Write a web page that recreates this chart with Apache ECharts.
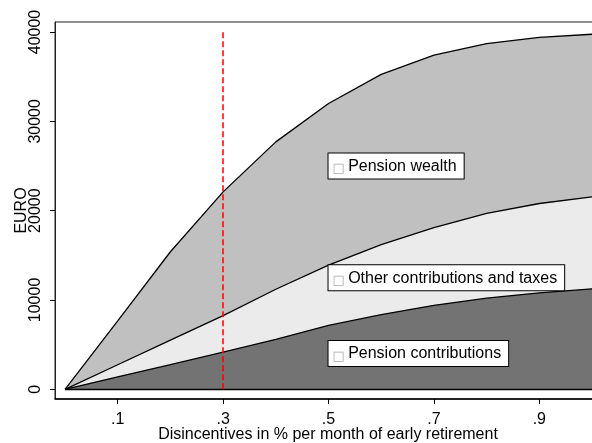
<!DOCTYPE html>
<html>
<head>
<meta charset="utf-8">
<script src="https://cdn.jsdelivr.net/npm/echarts@6/dist/echarts.min.js"></script>
<style>
  html, body { margin: 0; padding: 0; background: #fff; }
  #chart { width: 592px; height: 443px; }
</style>
</head>
<body>
<div id="chart"></div>
<script>
// x: disincentive in % per month of early retirement
const X_VALUES = [0, 0.1, 0.2, 0.3, 0.4, 0.5, 0.6, 0.7, 0.8, 0.9, 1.0]
// cumulative curves (EURO)
const PENSION_WEALTH = [0, 7650, 15400, 22100, 27700, 32000, 35250, 37400, 38700, 39400, 39750]
const OTHER_CONTRIB = [0, 2750, 5500, 8250, 11200, 13900, 16200, 18100, 19700, 20800, 21550]
const PENSION_CONTRIB = [0, 1400, 2750, 4150, 5600, 7150, 8350, 9400, 10200, 10800, 11250]

const X_TICKS = [0.1, 0.3, 0.5, 0.7, 0.9]
const Y_TICKS = [0, 10000, 20000, 30000, 40000]

const CUTOFF = 0.3
const CUTOFF_TOP = 40000

const LABELS = [
  { name: 'Pension wealth', x: 0.5, y: 25000 },
  { name: 'Other contributions and taxes', x: 0.5, y: 12500 },
  { name: 'Pension contributions', x: 0.5, y: 4000 },
]

const FONT = '"Liberation Sans", Arial, Helvetica, sans-serif'

const toPairs = (ys) => X_VALUES.map((x, i) => [x, ys[i]])

const areaSeries = (name, ys, fill) => ({
  name,
  type: 'line',
  data: toPairs(ys),
  symbol: 'none',
  lineStyle: { color: '#000', width: 1.3 },
  areaStyle: { color: fill, opacity: 1, origin: 0 },
  z: 2,
})

const chart = echarts.init(document.getElementById('chart'), null, { renderer: 'canvas' })

chart.setOption({
  animation: false,
  textStyle: { fontFamily: FONT },
  grid: {
    left: 55,
    top: 22,
    width: 546,
    bottom: 44,
    outerBoundsMode: 'none',
    containLabel: false,
    show: true,
    borderColor: '#222',
    borderWidth: 1,
    backgroundColor: '#fff',
  },
  xAxis: {
    type: 'value',
    min: -0.019,
    max: 1.017,
    name: 'Disincentives in % per month of early retirement',
    nameLocation: 'middle',
    nameGap: 28,
    nameMoveOverlap: false,
    nameTextStyle: { color: '#000', fontSize: 16, fontFamily: FONT },
    axisLine: { show: true, onZero: false, lineStyle: { color: '#000', width: 1.5 } },
    axisTick: { show: true, length: 5, customValues: X_TICKS, lineStyle: { color: '#000' } },
    axisLabel: {
      customValues: X_TICKS,
      margin: 13,
      color: '#000',
      fontSize: 16,
      fontFamily: FONT,
      formatter: (v) => String(v).replace(/^0/, ''),
    },
    splitLine: { show: false },
  },
  yAxis: {
    type: 'value',
    min: -1087,
    max: 41120,
    name: 'EURO',
    nameLocation: 'middle',
    nameGap: 25,
    nameMoveOverlap: false,
    nameTextStyle: { color: '#000', fontSize: 16, fontFamily: FONT },
    axisLine: { show: true, onZero: false, lineStyle: { color: '#222', width: 1 } },
    axisTick: { show: true, length: 5, customValues: Y_TICKS, lineStyle: { color: '#000' } },
    axisLabel: {
      customValues: Y_TICKS,
      rotate: 90,
      margin: 11,
      color: '#000',
      fontSize: 16,
      fontFamily: FONT,
      formatter: (v) => String(v),
    },
    splitLine: { show: false },
  },
  series: [
    areaSeries('Pension wealth', PENSION_WEALTH, '#c0c0c0'),
    areaSeries('Other contributions and taxes', OTHER_CONTRIB, '#ebebeb'),
    {
      ...areaSeries('Pension contributions', PENSION_CONTRIB, '#737373'),
      markLine: {
        silent: true,
        symbol: 'none',
        label: { show: false },
        data: [
          [
            { coord: [X_VALUES[0], 0], lineStyle: { color: '#000', width: 1.3, type: 'solid' } },
            { coord: [X_VALUES[X_VALUES.length - 1], 0] },
          ],
          [
            { coord: [CUTOFF, 0], lineStyle: { color: '#ff0000', width: 1.5, type: [6, 3] } },
            { coord: [CUTOFF, CUTOFF_TOP] },
          ],
        ],
      },
    },
    {
      name: 'labels',
      type: 'scatter',
      symbolSize: 0,
      z: 5,
      itemStyle: { opacity: 1 },
      data: LABELS.map((l) => ({ value: [l.x, l.y], name: l.name })),
      label: {
        show: true,
        position: 'right',
        distance: 0,
        formatter: (p) => '{g|\u25A1} {t|' + p.name + '}',
        backgroundColor: '#fff',
        borderColor: '#000',
        borderWidth: 1,
        padding: [4, 7, 3, 4],
        rich: {
          g: { color: '#aaa', fontSize: 13, fontFamily: '"DejaVu Sans", sans-serif', verticalAlign: 'bottom' },
          t: { color: '#000', fontSize: 16, fontFamily: FONT, lineHeight: 18 },
        },
      },
    },
  ],
})
</script>
</body>
</html>
